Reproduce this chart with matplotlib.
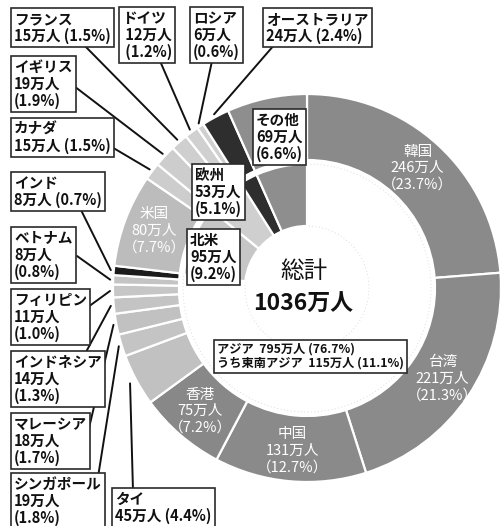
import matplotlib.pyplot as plt
import numpy as np

plt.rcParams['font.family'] = ['Noto Sans CJK JP', 'DejaVu Sans']

##### DATA #####
countries = ['韓国', '台湾', '中国', '香港', 'タイ', 'シンガポール', 'マレーシア',
             'インドネシア', 'フィリピン', 'ベトナム', 'インド', '米国', 'カナダ',
             'イギリス', 'フランス', 'ドイツ', 'ロシア', 'オーストラリア', 'その他']
visitors = [246, 221, 131, 75, 45, 19, 18, 14, 11, 8, 8, 80, 15, 19, 15, 12, 6, 24, 69]
shares = [23.7, 21.3, 12.7, 7.2, 4.4, 1.8, 1.7, 1.3, 1.0, 0.8, 0.7, 7.7, 1.5,
          1.9, 1.5, 1.2, 0.6, 2.4, 6.6]

regions = ['アジア', '北米', '欧州', 'オーストラリア', 'その他']
region_visitors = [795, 95, 53, 24, 69]
region_shares = [76.7, 9.2, 5.1, 2.4, 6.6]

sea_visitors = 115
sea_share = 11.1
total = 1036

##### STYLE / LAYOUT #####
country_colors = ['#8a8a8a', '#8a8a8a', '#8a8a8a', '#888888', '#c1c1c1', '#c4c4c4',
                  '#c1c1c1', '#c4c4c4', '#c6c6c6', '#c4c4c4', '#1c1c1c', '#bcbcbc',
                  '#cdcdcd', '#cdcdcd', '#cfcfcf', '#d0d0d0', '#d0d0d0', '#2e2e2e',
                  '#8e8e8e']
region_colors = ['white', '#c6c6c6', '#cfcfcf', '#2e2e2e', '#8e8e8e']

cx, cy = 307, 288  # pixel coords, y downwards

# box label: text top-left, leader start, number of lines, indent
boxes = {
    'フランス': (14, 11, (83, 44), 2, ''),
    'ドイツ': (122, 10, (160, 61), 3, ' '),
    'ロシア': (193, 10, (212, 61), 3, ''),
    'オーストラリア': (266, 11, (275, 44), 2, ''),
    'イギリス': (14, 59, (70, 83), 3, ''),
    'カナダ': (14, 121, (110, 146), 2, ''),
    'インド': (14, 175, (80, 208), 2, ''),
    'ベトナム': (14, 230, (77, 256), 3, ''),
    'フィリピン': (14, 292, (77, 315), 3, ''),
    'インドネシア': (14, 354, (86, 352), 3, ''),
    'マレーシア': (14, 416, (84, 449), 3, ''),
    'シンガポール': (14, 476, (98, 477), 3, ''),
    'タイ': (115, 491, (133, 491), 2, ''),
}
white_labels = ['韓国', '台湾', '中国', '香港', '米国']
region_boxes = {'北米': (190, 232), '欧州': (195, 167), 'その他': (256, 112)}

fig = plt.figure(figsize=(5.02, 5.26), dpi=100)
ax = fig.add_axes([0, 0, 1, 1])

# y axis inverted -> counterclock in data = clockwise on screen, start at top
outer, _ = ax.pie(visitors, colors=country_colors, radius=194, center=(cx, cy),
                  startangle=-90, counterclock=True,
                  wedgeprops=dict(width=66, edgecolor='white', linewidth=1.6))
inner, _ = ax.pie(region_visitors, colors=region_colors, radius=124, center=(cx, cy),
                  startangle=-90, counterclock=True,
                  wedgeprops=dict(width=62, edgecolor='white', linewidth=1.6))
inner[0].set_edgecolor('#dcdcdc')
inner[0].set_linestyle((0, (1, 2.5)))
inner[0].set_linewidth(0.7)

ax.set_xlim(0, 502)
ax.set_ylim(526, 0)
ax.set_aspect('equal')
ax.axis('off')


def wedge_point(w, r):
    t = np.deg2rad((w.theta1 + w.theta2) / 2)
    return cx + r * np.cos(t), cy + r * np.sin(t)


box_style = dict(boxstyle='square,pad=0.22', fc='white', ec='#2a2a2a', lw=1.2)

for i, name in enumerate(countries):
    if name in boxes:
        tx, ty, start, nl, ind = boxes[name]
        sep = '\n' + ind if nl == 3 else ' '
        txt = f'{name}\n{ind}{visitors[i]}万人{sep}({shares[i]}%)'
        ax.text(tx, ty, txt, ha='left', va='top', fontsize=10.5, fontweight='bold',
                linespacing=1.07, color='#111', bbox=box_style, zorder=5)
        r = 201 if name == 'タイ' else 197
        ax.annotate('', xy=wedge_point(outer[i], r), xytext=start,
                    arrowprops=dict(arrowstyle='-', color='#111', lw=1.4,
                                    shrinkA=0, shrinkB=0), zorder=4)
    elif name in white_labels:
        x, y = wedge_point(outer[i], 163)
        ax.text(x, y, f'{name}\n{visitors[i]}万人\n（{shares[i]}%）', ha='center',
                va='center', fontsize=10.5, color='white', linespacing=1.25,
                zorder=5)

# region boxes (その他 sits in its outer wedge)
for j, name in enumerate(regions):
    if name in region_boxes:
        tx, ty = region_boxes[name]
        ax.text(tx, ty, f'{name}\n{region_visitors[j]}万人\n({region_shares[j]}%)',
                ha='left', va='top', fontsize=10.5, fontweight='bold', linespacing=1.07,
                color='#111', bbox=box_style, zorder=5)

ax.text(217, 343, f'{regions[0]}  {region_visitors[0]}万人 ({region_shares[0]}%)\n'
        f'うち東南アジア  {sea_visitors}万人 ({sea_share}%)',
        ha='left', va='top', fontsize=8.8, fontweight='bold', linespacing=1.1,
        color='#111', bbox=box_style, zorder=5)

ax.text(304, 272, '総計', ha='center', va='center', fontsize=17, color='#111')
ax.text(303, 304, f'{total}万人', ha='center', va='center', fontsize=16.5,
        fontweight='bold', color='#111')

fig.savefig('out.png', dpi=100)
